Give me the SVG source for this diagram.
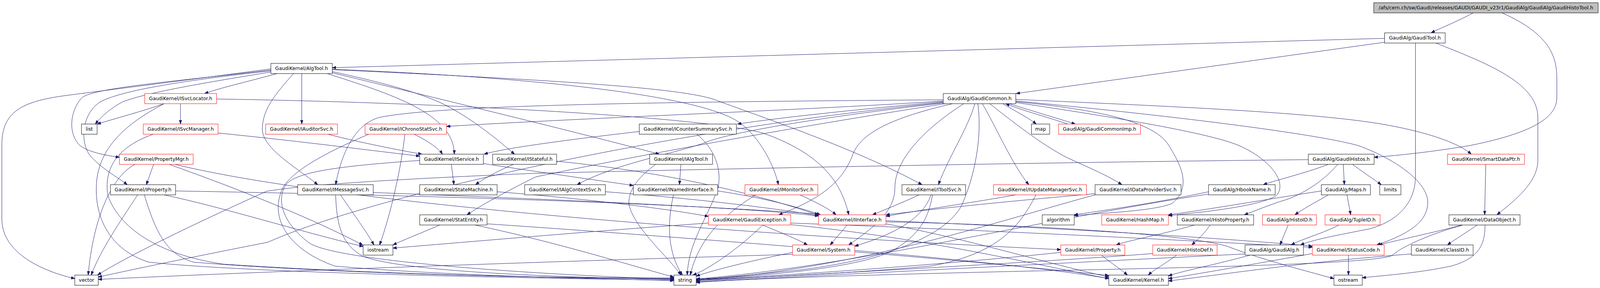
<svg xmlns="http://www.w3.org/2000/svg" width="4300" height="736" viewBox="0 0 4300 736">
<style>
.n rect{fill:#fff;stroke:#000;stroke-width:1}
.n.r rect{stroke:#f00}
.n.t rect{fill:#bfbfbf}
.n text{font-family:"DejaVu Sans","Liberation Sans",sans-serif;font-size:13px;text-anchor:middle;fill:#000}
#edges path{fill:none;stroke:#191970;stroke-width:1;marker-end:url(#a)}
</style>
<defs>
<marker id="a" markerWidth="11" markerHeight="8" refX="10" refY="4" orient="auto" markerUnits="userSpaceOnUse"><path d="M0,0.5 L10,4 L0,7.5 Z" fill="#191970" stroke="#191970" stroke-width="1"/></marker>
</defs>
<rect width="4300" height="736" fill="#fff"/>
<g id="graph" transform="scale(0.952558,1)">
<g id="edges">
<path d="M3959,33 C3910,58 3870,72 3846,84"/>
<path d="M4037,33 C4160,85 4184,140 4184,200 L4184,250 C4184,310 4090,345 3950,372 C3850,388 3760,397 3693,402"/>
<path d="M3721,98 L893,173"/>
<path d="M3721,108 L2731,239"/>
<path d="M3804,110 L3804,450 C3804,530 3740,570 3680,585 C3600,600 3530,612 3495,626"/>
<path d="M3859,110 C3990,160 4133,210 4133,300 L4133,410 C4133,470 4060,520 4023,549"/>
<path d="M811,188 L811,317"/>
<path d="M728,176 C500,205 250,235 170,245 C60,260 5,285 5,370 L5,560 C5,640 100,690 201,712"/>
<path d="M728,184 C560,210 400,235 330,260 C300,275 275,295 256,317"/>
<path d="M745,188 C660,210 590,225 550,239"/>
<path d="M728,179 C450,210 250,225 220,250 C190,280 180,340 215,372 C240,390 290,398 321,402"/>
<path d="M728,181 C500,205 330,230 270,260 C220,290 215,360 240,395 C270,430 320,455 342,472"/>
<path d="M893,183 C1000,205 1130,235 1200,270 C1280,310 1340,360 1383,394"/>
<path d="M893,186 C1300,280 1600,350 1772,394"/>
<path d="M879,188 C1050,240 1220,290 1221,394"/>
<path d="M893,177 C1500,200 1900,250 1990,315 C2040,350 2080,420 2092,472"/>
<path d="M893,178 C1500,205 1850,225 1930,258 C2050,300 2300,380 2478,472"/>
<path d="M789,188 C740,240 705,280 705,330 C705,380 800,430 854,472"/>
<path d="M2535,258 C2200,280 1600,300 1200,323"/>
<path d="M2535,260 C2300,280 2100,300 1982,317"/>
<path d="M2535,255 C1900,260 1200,265 1020,300 C960,315 920,380 902,472"/>
<path d="M2537,263 C2200,300 1950,340 1891,366 C1800,395 1650,420 1551,472"/>
<path d="M2540,265 C2100,330 1700,400 1440,452 C1380,480 1300,520 1255,549"/>
<path d="M2560,265 C2400,300 2309,340 2290,400 C2260,470 2200,510 2093,549"/>
<path d="M2590,265 C2500,320 2405,400 2405,480 C2405,540 2350,580 2281,626"/>
<path d="M2628,265 C2640,350 2620,450 2584,526 C2540,600 2400,660 2148,690 C2000,705 1900,712 1871,716"/>
<path d="M2620,265 C2600,330 2550,400 2522,472"/>
<path d="M2640,265 C2680,330 2720,420 2765,472"/>
<path d="M2660,265 C2720,310 2800,370 2868,403 C2930,430 2980,450 3015,472"/>
<path d="M2695,265 C2740,290 2770,305 2785,317"/>
<path d="M2712,265 C2790,288 2850,305 2890,317"/>
<path d="M2870,317 C2800,295 2740,280 2703,265"/>
<path d="M2730,254 C3100,270 3500,285 3700,315 C3830,335 3920,365 3954,394"/>
<path d="M2730,258 C3200,300 3550,345 3650,372 C3760,410 3840,470 3837,520 C3835,570 3780,600 3700,626"/>
<path d="M2730,260 C2950,280 3100,310 3140,370 C3180,430 3200,480 3150,520 C3100,540 2950,545 2887,551"/>
<path d="M2730,262 C3000,300 3250,340 3330,372 C3420,410 3460,470 3430,500 C3380,530 3200,545 3140,551"/>
<path d="M2535,262 C1800,330 1000,500 720,619 C500,660 350,690 264,708"/>
<path d="M3610,420 L3613,472"/>
<path d="M3635,420 C3670,445 3695,460 3712,472"/>
<path d="M3570,420 C3500,445 3430,460 3395,472"/>
<path d="M3595,420 C3560,460 3500,500 3440,515 C3400,528 3370,540 3344,549"/>
<path d="M3516,408 C2800,415 2000,430 1436,443 C1000,460 800,475 716,489 C550,560 350,650 262,703"/>
<path d="M3248,490 C3100,520 2950,540 2887,549"/>
<path d="M3248,496 C2800,560 2300,680 1871,713"/>
<path d="M3551,488 C3400,510 3250,535 3140,549"/>
<path d="M3570,498 C3530,520 3500,535 3480,549"/>
<path d="M3620,498 L3630,549"/>
<path d="M3462,575 L3440,626"/>
<path d="M3598,575 C3560,595 3500,610 3470,626"/>
<path d="M3210,575 C3120,600 3030,615 3000,626"/>
<path d="M3252,575 C3235,600 3215,615 3203,626"/>
<path d="M3162,652 C3130,675 3100,690 3086,703"/>
<path d="M3098,648 C2800,670 2200,700 1871,718"/>
<path d="M2960,652 C2990,675 3015,690 3030,703"/>
<path d="M2851,645 C2600,670 2200,700 1871,715"/>
<path d="M3360,652 C3250,680 3180,692 3140,705"/>
<path d="M3346,649 C2900,670 2300,700 1871,720"/>
<path d="M3624,652 L3624,703"/>
<path d="M3527,648 C3400,670 3250,695 3140,712"/>
<path d="M3793,649 C3500,670 3300,700 3140,718"/>
<path d="M3970,575 C3935,598 3905,615 3890,626"/>
<path d="M3929,575 C3850,595 3750,615 3705,626"/>
<path d="M3929,576 C3855,594 3768,629 3741,653 C3700,670 3400,680 2900,690 C2400,700 2000,712 1871,722"/>
<path d="M3991,575 C3991,625 3975,660 3900,680 C3800,700 3700,705 3661,710"/>
<path d="M3993,420 L3990,549"/>
<path d="M2277,575 L2231,626"/>
<path d="M2381,564 C2900,585 3300,610 3527,629"/>
<path d="M2381,572 C2600,610 2800,670 2980,708"/>
<path d="M2381,567 C2800,575 3200,600 3300,630 C3380,660 3500,690 3585,712"/>
<path d="M2297,640 C2600,665 2850,690 2980,712"/>
<path d="M2130,645 C2000,670 1900,695 1871,706"/>
<path d="M2130,650 C1500,668 800,690 264,714"/>
<path d="M2050,575 C1980,640 1900,690 1862,703"/>
<path d="M2049,575 C2100,595 2140,610 2170,626"/>
<path d="M1904,570 C1600,590 1300,615 1056,634"/>
<path d="M2125,570 C2700,590 3200,615 3527,632"/>
<path d="M2125,574 C2500,610 2800,680 2980,712"/>
<path d="M1182,575 C1120,600 1080,615 1056,626"/>
<path d="M1276,575 C1500,620 1700,680 1811,708"/>
<path d="M1309,572 C1900,610 2600,665 2980,704"/>
<path d="M1336,490 C1600,510 1800,535 1904,553"/>
<path d="M1213,420 L1220,472"/>
<path d="M1299,418 C1450,440 1600,460 1702,474"/>
<path d="M1128,410 C900,425 800,440 770,470 C740,510 760,570 830,620 C900,670 1500,705 1811,713"/>
<path d="M1380,420 C1330,440 1295,460 1278,472"/>
<path d="M1496,412 C1800,440 2050,500 2200,550"/>
<path d="M915,498 C960,560 990,600 1005,626"/>
<path d="M902,498 C905,580 920,625 975,655 C1100,700 1600,710 1811,714"/>
<path d="M1003,492 C1500,510 2000,530 2200,552"/>
<path d="M881,343 C950,360 1050,380 1134,394"/>
<path d="M1113,343 C1150,360 1180,380 1189,394"/>
<path d="M1088,343 C1080,420 1050,550 1020,626"/>
<path d="M991,343 C900,380 790,430 760,480 C720,560 780,640 900,680 C1200,705 1600,712 1811,717"/>
<path d="M1718,336 C1500,360 1350,380 1301,394"/>
<path d="M1873,343 C1920,380 1940,430 1930,480 C1900,560 1850,620 1847,703"/>
<path d="M1830,420 L1826,472"/>
<path d="M1762,420 C1720,450 1690,480 1690,520 C1700,580 1800,660 1830,703"/>
<path d="M1929,488 C2050,505 2150,530 2205,549"/>
<path d="M1810,498 C1795,560 1790,640 1834,703"/>
<path d="M2150,498 C2200,520 2230,535 2247,549"/>
<path d="M2031,498 C1960,540 1880,600 1855,703"/>
<path d="M1627,490 C1900,510 2100,535 2200,551"/>
<path d="M2470,498 C2420,520 2380,535 2345,549"/>
<path d="M2502,498 C2480,560 2400,600 2297,629"/>
<path d="M2506,498 C2495,560 2470,600 2400,640 C2300,690 2000,708 1871,713"/>
<path d="M2730,498 C2600,520 2450,540 2381,553"/>
<path d="M2784,498 C2740,580 2680,650 2500,680 C2200,705 1950,712 1871,716"/>
<path d="M2943,495 C2700,515 2500,535 2381,549"/>
<path d="M2943,498 C2700,560 2300,690 1871,715"/>
<path d="M441,265 C380,285 320,300 261,317"/>
<path d="M485,265 L485,317"/>
<path d="M582,253 C1200,262 1900,300 2050,340 C2200,390 2260,460 2281,549"/>
<path d="M441,265 C330,320 270,380 260,460 C250,560 300,640 400,670 C700,700 1500,712 1811,716"/>
<path d="M586,340 C800,360 1000,385 1128,399"/>
<path d="M412,343 C330,370 276,420 290,500 C320,580 420,650 600,675 C1000,700 1500,712 1811,712"/>
<path d="M413,420 C405,440 400,455 393,472"/>
<path d="M363,420 C300,450 250,560 237,703"/>
<path d="M470,420 C900,520 2000,600 2851,638"/>
<path d="M455,420 C600,470 800,540 975,626"/>
<path d="M370,498 C320,570 270,640 245,703"/>
<path d="M388,498 C420,600 450,650 520,670 C900,700 1500,712 1811,710"/>
<path d="M472,488 C1200,500 1800,520 2200,547"/>
<path d="M441,498 C600,530 800,590 976,630"/>
</g>
<g id="n_top" class="n t"><rect x="3692" y="7" width="603" height="26"/><text x="3993.5" y="24.5">/afs/cern.ch/sw/Gaudi/releases/GAUDI/GAUDI_v23r1/GaudiAlg/GaudiAlg/GaudiHistoTool.h</text></g>
<g id="n_GaudiTool" class="n"><rect x="3721" y="84" width="163" height="26"/><text x="3802.5" y="101.5">GaudiAlg/GaudiTool.h</text></g>
<g id="n_AlgTool" class="n"><rect x="728" y="162" width="165" height="26"/><text x="810.5" y="179.5">GaudiKernel/AlgTool.h</text></g>
<g id="n_GaudiCommon" class="n"><rect x="2535" y="239" width="195" height="26"/><text x="2632.5" y="256.5">GaudiAlg/GaudiCommon.h</text></g>
<g id="n_ISvcLocator" class="n r"><rect x="389" y="239" width="193" height="26"/><text x="485.5" y="256.5">GaudiKernel/ISvcLocator.h</text></g>
<g id="n_list" class="n"><rect x="219" y="317" width="42" height="26"/><text x="240" y="334.5">list</text></g>
<g id="n_ISvcManager" class="n r"><rect x="385" y="317" width="201" height="26"/><text x="485.5" y="334.5">GaudiKernel/ISvcManager.h</text></g>
<g id="n_IAuditorSvc" class="n r"><rect x="714" y="317" width="193" height="26"/><text x="810.5" y="334.5">GaudiKernel/IAuditorSvc.h</text></g>
<g id="n_IChronoStatSvc" class="n r"><rect x="981" y="317" width="219" height="26"/><text x="1090.5" y="334.5">GaudiKernel/IChronoStatSvc.h</text></g>
<g id="n_ICounterSummarySvc" class="n"><rect x="1718" y="317" width="261" height="26"/><text x="1848.5" y="334.5">GaudiKernel/ICounterSummarySvc.h</text></g>
<g id="n_map" class="n"><rect x="2772" y="317" width="49" height="26"/><text x="2796.5" y="334.5">map</text></g>
<g id="n_GaudiCommonImp" class="n r"><rect x="2845" y="317" width="220" height="26"/><text x="2955" y="334.5">GaudiAlg/GaudiCommonImp.h</text></g>
<g id="n_PropertyMgr" class="n r"><rect x="321" y="394" width="198" height="26"/><text x="420" y="411.5">GaudiKernel/PropertyMgr.h</text></g>
<g id="n_IService" class="n"><rect x="1128" y="394" width="171" height="26"/><text x="1213.5" y="411.5">GaudiKernel/IService.h</text></g>
<g id="n_IStateful" class="n"><rect x="1324" y="394" width="172" height="26"/><text x="1410" y="411.5">GaudiKernel/IStateful.h</text></g>
<g id="n_IAlgTool" class="n"><rect x="1746" y="394" width="169" height="26"/><text x="1830.5" y="411.5">GaudiKernel/IAlgTool.h</text></g>
<g id="n_GaudiHistos" class="n"><rect x="3516" y="394" width="177" height="26"/><text x="3604.5" y="411.5">GaudiAlg/GaudiHistos.h</text></g>
<g id="n_SmartDataPtr" class="n r"><rect x="3890" y="394" width="207" height="26"/><text x="3993.5" y="411.5">GaudiKernel/SmartDataPtr.h</text></g>
<g id="n_IProperty" class="n"><rect x="297" y="472" width="175" height="26"/><text x="384.5" y="489.5">GaudiKernel/IProperty.h</text></g>
<g id="n_IMessageSvc" class="n"><rect x="800" y="472" width="203" height="26"/><text x="901.5" y="489.5">GaudiKernel/IMessageSvc.h</text></g>
<g id="n_StateMachine" class="n"><rect x="1128" y="472" width="208" height="26"/><text x="1232" y="489.5">GaudiKernel/StateMachine.h</text></g>
<g id="n_IAlgContextSvc" class="n"><rect x="1410" y="472" width="217" height="26"/><text x="1518.5" y="489.5">GaudiKernel/IAlgContextSvc.h</text></g>
<g id="n_INamedInterface" class="n"><rect x="1702" y="472" width="227" height="26"/><text x="1815.5" y="489.5">GaudiKernel/INamedInterface.h</text></g>
<g id="n_IMonitorSvc" class="n r"><rect x="2002" y="472" width="196" height="26"/><text x="2100" y="489.5">GaudiKernel/IMonitorSvc.h</text></g>
<g id="n_IToolSvc" class="n"><rect x="2424" y="472" width="171" height="26"/><text x="2509.5" y="489.5">GaudiKernel/IToolSvc.h</text></g>
<g id="n_IUpdateManagerSvc" class="n r"><rect x="2670" y="472" width="250" height="26"/><text x="2795" y="489.5">GaudiKernel/IUpdateManagerSvc.h</text></g>
<g id="n_IDataProviderSvc" class="n"><rect x="2943" y="472" width="231" height="26"/><text x="3058.5" y="489.5">GaudiKernel/IDataProviderSvc.h</text></g>
<g id="n_HbookName" class="n"><rect x="3248" y="472" width="179" height="26"/><text x="3337.5" y="489.5">GaudiAlg/HbookName.h</text></g>
<g id="n_Maps" class="n"><rect x="3551" y="472" width="132" height="26"/><text x="3617" y="489.5">GaudiAlg/Maps.h</text></g>
<g id="n_limits" class="n"><rect x="3708" y="472" width="57" height="26"/><text x="3736.5" y="489.5">limits</text></g>
<g id="n_StatEntity" class="n"><rect x="1128" y="549" width="181" height="26"/><text x="1218.5" y="566.5">GaudiKernel/StatEntity.h</text></g>
<g id="n_GaudiException" class="n r"><rect x="1904" y="549" width="221" height="26"/><text x="2014.5" y="566.5">GaudiKernel/GaudiException.h</text></g>
<g id="n_IInterface" class="n r"><rect x="2200" y="549" width="181" height="26"/><text x="2290.5" y="566.5">GaudiKernel/IInterface.h</text></g>
<g id="n_algorithm" class="n"><rect x="2801" y="549" width="86" height="26"/><text x="2844" y="566.5">algorithm</text></g>
<g id="n_HashMap" class="n r"><rect x="2961" y="549" width="179" height="26"/><text x="3050.5" y="566.5">GaudiKernel/HashMap.h</text></g>
<g id="n_HistoProperty" class="n"><rect x="3164" y="549" width="205" height="26"/><text x="3266.5" y="566.5">GaudiKernel/HistoProperty.h</text></g>
<g id="n_HistoID" class="n r"><rect x="3393" y="549" width="145" height="26"/><text x="3465.5" y="566.5">GaudiAlg/HistoID.h</text></g>
<g id="n_TupleID" class="n r"><rect x="3561" y="549" width="148" height="26"/><text x="3635" y="566.5">GaudiAlg/TupleID.h</text></g>
<g id="n_DataObject" class="n"><rect x="3894" y="549" width="191" height="26"/><text x="3989.5" y="566.5">GaudiKernel/DataObject.h</text></g>
<g id="n_iostream" class="n"><rect x="976" y="626" width="80" height="26"/><text x="1016" y="643.5">iostream</text></g>
<g id="n_System" class="n r"><rect x="2130" y="626" width="167" height="26"/><text x="2213.5" y="643.5">GaudiKernel/System.h</text></g>
<g id="n_Property" class="n r"><rect x="2851" y="626" width="172" height="26"/><text x="2937" y="643.5">GaudiKernel/Property.h</text></g>
<g id="n_HistoDef" class="n r"><rect x="3098" y="626" width="173" height="26"/><text x="3184.5" y="643.5">GaudiKernel/HistoDef.h</text></g>
<g id="n_GaudiAlg" class="n"><rect x="3346" y="626" width="157" height="26"/><text x="3424.5" y="643.5">GaudiAlg/GaudiAlg.h</text></g>
<g id="n_StatusCode" class="n r"><rect x="3527" y="626" width="193" height="26"/><text x="3623.5" y="643.5">GaudiKernel/StatusCode.h</text></g>
<g id="n_ClassID" class="n"><rect x="3793" y="626" width="166" height="26"/><text x="3876" y="643.5">GaudiKernel/ClassID.h</text></g>
<g id="n_vector" class="n"><rect x="201" y="703" width="63" height="26"/><text x="232.5" y="720.5">vector</text></g>
<g id="n_string" class="n"><rect x="1811" y="703" width="60" height="26"/><text x="1841" y="720.5">string</text></g>
<g id="n_Kernel" class="n"><rect x="2980" y="703" width="160" height="26"/><text x="3060" y="720.5">GaudiKernel/Kernel.h</text></g>
<g id="n_ostream" class="n"><rect x="3585" y="703" width="76" height="26"/><text x="3623" y="720.5">ostream</text></g>
</g>
</svg>
